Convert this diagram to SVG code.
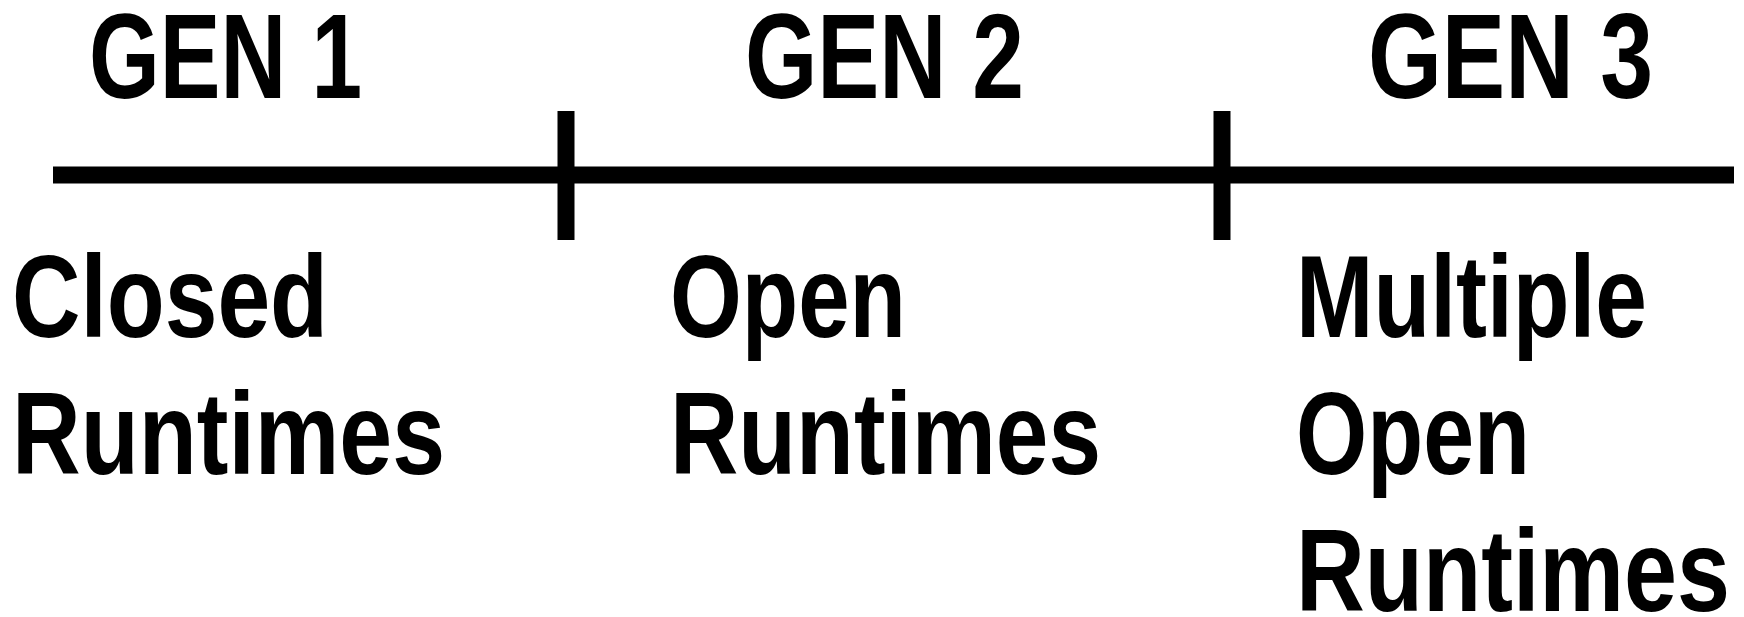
<svg xmlns="http://www.w3.org/2000/svg" width="1744" height="617" viewBox="0 0 1744 617">
<style>
.t{font-family:"Liberation Sans",Arial,sans-serif;font-weight:bold;fill:#000}
.h{font-size:121px}
.b{font-size:117px}
.ln{stroke:#000;stroke-width:17;fill:none}
</style>
<rect width="1744" height="617" fill="#fff"/>
<g id="connectors">
<line class="ln" x1="53" y1="175" x2="1734" y2="175"/>
<line class="ln" x1="566" y1="111" x2="566" y2="240"/>
<line class="ln" x1="1222" y1="111" x2="1222" y2="240"/>
</g>
<g id="gen1"><text class="t h" x="89" y="98" textLength="273" lengthAdjust="spacingAndGlyphs">GEN 1</text></g>
<g id="gen2"><text class="t h" x="745" y="98" textLength="279" lengthAdjust="spacingAndGlyphs">GEN 2</text></g>
<g id="gen3"><text class="t h" x="1368" y="98" textLength="285" lengthAdjust="spacingAndGlyphs">GEN 3</text></g>
<g id="closed">
<text class="t b" x="12" y="337" textLength="316" lengthAdjust="spacingAndGlyphs">Closed</text>
<text class="t b" x="12" y="474" textLength="433" lengthAdjust="spacingAndGlyphs">Runtimes</text>
</g>
<g id="open">
<text class="t b" x="670" y="337" textLength="236" lengthAdjust="spacingAndGlyphs">Open</text>
<text class="t b" x="670" y="474" textLength="431" lengthAdjust="spacingAndGlyphs">Runtimes</text>
</g>
<g id="multiple">
<text class="t b" x="1296" y="337" textLength="351" lengthAdjust="spacingAndGlyphs">Multiple</text>
<text class="t b" x="1296" y="474" textLength="234" lengthAdjust="spacingAndGlyphs">Open</text>
<text class="t b" x="1296" y="611" textLength="434" lengthAdjust="spacingAndGlyphs">Runtimes</text>
</g>
</svg>
